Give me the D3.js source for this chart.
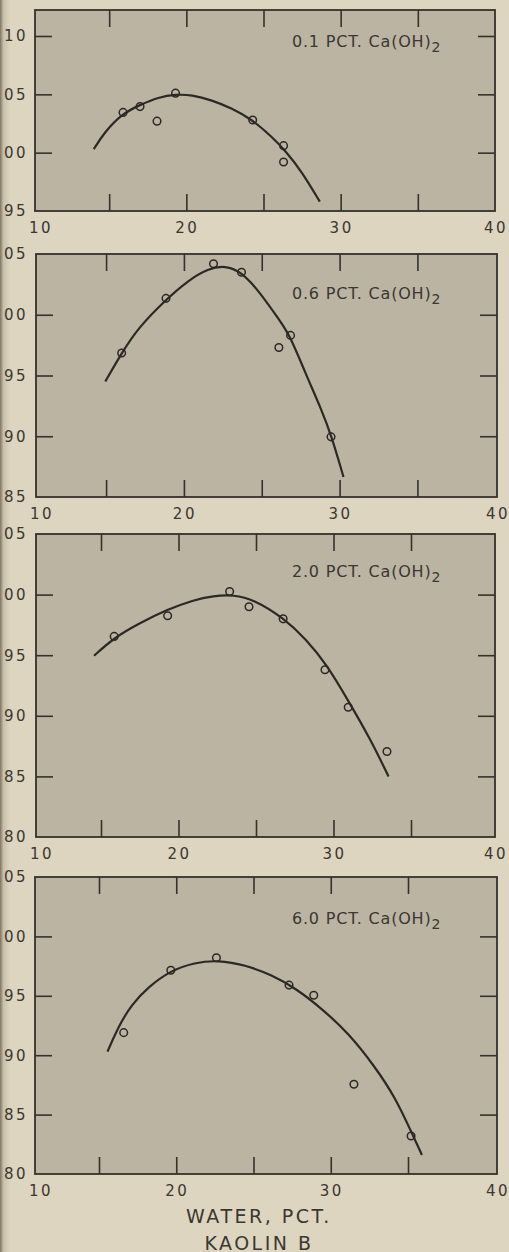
<!DOCTYPE html>
<html>
<head>
<meta charset="utf-8">
<style>
  body { margin: 0; background: #ddd5bf; }
  svg { display: block; }
  text { font-family: "DejaVu Sans", sans-serif; fill: #3b3731; }
</style>
</head>
<body>
<svg id="chart" width="509" height="1252"></svg>
<script src="https://d3js.org/d3.v7.min.js"></script>
<script>

// values: water (pct) vs dry density
var p1Water = [15.9, 17.0, 18.1, 19.3, 24.3, 26.3, 26.3];
var p1Density = [103.45, 103.95, 102.7, 105.1, 102.8, 100.6, 99.2];
var p1FitWater = [14.0, 14.7, 15.8, 17.0, 18.2, 19.3, 20.35, 21.65, 22.95, 24.25, 25.55, 26.4, 27.5, 28.65];
var p1FitDensity = [100.3, 101.75, 103.3, 104.1, 104.75, 105.0, 104.95, 104.5, 103.8, 102.85, 101.35, 100.2, 98.35, 95.8];

var p2Water = [16.0, 18.85, 21.9, 23.7, 26.1, 26.85, 29.45];
var p2Density = [96.85, 101.35, 104.2, 103.5, 97.3, 98.3, 89.95];
var p2FitWater = [14.95, 16.0, 17.05, 18.8, 20.3, 21.55, 22.65, 23.7, 25.0, 26.05, 26.8, 27.8, 28.85, 29.5, 30.25];
var p2FitDensity = [94.5, 96.85, 98.9, 101.2, 102.85, 103.8, 104.05, 103.55, 101.65, 99.7, 98.35, 95.2, 92.15, 89.95, 86.65];

var p3Water = [15.85, 19.3, 23.3, 24.55, 26.75, 29.45, 30.95, 33.45];
var p3Density = [96.55, 98.25, 100.25, 99.0, 98.0, 93.8, 90.7, 87.05];
var p3FitWater = [14.55, 15.85, 17.5, 19.25, 20.95, 22.25, 23.55, 24.85, 26.75, 28.25, 29.55, 30.95, 32.35, 33.55];
var p3FitDensity = [94.95, 96.45, 97.65, 98.75, 99.55, 99.9, 99.98, 99.6, 98.1, 96.3, 94.25, 91.25, 88.15, 85.0];

var p4Water = [16.6, 19.65, 22.6, 27.3, 28.9, 31.5, 35.2];
var p4Density = [91.9, 97.15, 98.2, 95.9, 95.05, 87.55, 83.2];
var p4FitWater = [15.55, 16.25, 17.1, 18.2, 19.6, 21.2, 22.7, 24.45, 26.2, 27.7, 29.4, 31.15, 32.85, 34.15, 35.25, 35.9];
var p4FitDensity = [90.3, 92.4, 94.25, 95.75, 97.1, 97.8, 98.0, 97.6, 96.75, 95.65, 93.95, 91.85, 89.05, 86.5, 83.45, 81.6];

var limeLabels = ["0.1", "0.6", "2.0", "6.0"];
var xTicks = [15, 20, 25, 30, 35];
var xTickLabels = [10, 20, 30, 40];
var p1YTicks = [95, 100, 105, 110];
var p2YTicks = [85, 90, 95, 100, 105];
var p3YTicks = [80, 85, 90, 95, 100, 105];
var p4YTicks = [80, 85, 90, 95, 100, 105];

var panels = [
  { water: p1Water, density: p1Density, fitW: p1FitWater, fitD: p1FitDensity, yTicks: p1YTicks,
    yDomain: [95, 110], yRange: [211, 36], xRange: [32, 495], box: { l: 35, r: 495, t: 10, b: 211 }, labelY: 47 },
  { water: p2Water, density: p2Density, fitW: p2FitWater, fitD: p2FitDensity, yTicks: p2YTicks,
    yDomain: [85, 105], yRange: [497, 254], xRange: [28.25, 495.25], box: { l: 36, r: 497, t: 254, b: 497 }, labelY: 299 },
  { water: p3Water, density: p3Density, fitW: p3FitWater, fitD: p3FitDensity, yTicks: p3YTicks,
    yDomain: [80, 105], yRange: [837, 534], xRange: [23.5, 488.5], box: { l: 36, r: 495, t: 534, b: 837 }, labelY: 577 },
  { water: p4Water, density: p4Density, fitW: p4FitWater, fitD: p4FitDensity, yTicks: p4YTicks,
    yDomain: [80, 105], yRange: [1174, 877], xRange: [21.75, 485.25], box: { l: 35, r: 497, t: 877, b: 1174 }, labelY: 924 }
];

var svg = d3.select("#chart");
var ink = "#35312c";
var tickLen = 17;

// darker binding strip on the left of the scan
var defs = svg.append("defs");
var grad = defs.append("linearGradient").attr("id", "edge");
grad.append("stop").attr("offset", "0").attr("stop-color", "#7d7465");
grad.append("stop").attr("offset", "0.35").attr("stop-color", "#c9c0a9");
grad.append("stop").attr("offset", "1").attr("stop-color", "#ddd5bf");
svg.append("rect").attr("x", 0).attr("y", 0).attr("width", 10).attr("height", 1252).attr("fill", "url(#edge)");

panels.forEach(function (p, i) {
  var x = d3.scaleLinear().domain([10, 40]).range(p.xRange);
  var y = d3.scaleLinear().domain(p.yDomain).range(p.yRange);
  var b = p.box;
  var g = svg.append("g");

  g.append("rect")
    .attr("x", b.l).attr("y", b.t)
    .attr("width", b.r - b.l).attr("height", b.b - b.t)
    .attr("fill", "#bbb4a3");

  var innerY = p.yTicks.filter(function (v) { return y(v) > b.t + 3 && y(v) < b.b - 3; });

  // inward ticks on all four sides
  var axes = [
    [d3.axisTop(x).tickValues(xTicks), "translate(0," + b.t + ")"],
    [d3.axisBottom(x).tickValues(xTicks), "translate(0," + b.b + ")"],
    [d3.axisLeft(y).tickValues(innerY), "translate(" + b.l + ",0)"],
    [d3.axisRight(y).tickValues(innerY), "translate(" + b.r + ",0)"]
  ];
  axes.forEach(function (a) {
    var ax = g.append("g").attr("transform", a[1])
      .call(a[0].tickSize(-tickLen).tickFormat(""));
    ax.select(".domain").remove();
    ax.selectAll("line").attr("stroke", ink).attr("stroke-width", 1.6);
  });

  g.append("rect")
    .attr("x", b.l).attr("y", b.t)
    .attr("width", b.r - b.l).attr("height", b.b - b.t)
    .attr("fill", "none").attr("stroke", ink).attr("stroke-width", 1.8);

  // y labels (the scan cuts the hundreds digit off on the left)
  g.selectAll(".ylab").data(p.yTicks).enter().append("text")
    .attr("x", 28).attr("y", function (d) { return y(d); })
    .attr("dy", "0.36em")
    .attr("text-anchor", "end")
    .attr("font-size", 15).attr("letter-spacing", 2.5)
    .text(function (d) { return d; });

  // x labels: the end labels sit at the frame corners
  g.selectAll(".xlab").data(xTickLabels).enter().append("text")
    .attr("x", function (d) {
      if (d === 10) return b.l + 6;
      if (d === 40) return b.r + 1;
      return x(d) + 1;
    })
    .attr("y", b.b + 22)
    .attr("text-anchor", "middle")
    .attr("font-size", 15).attr("letter-spacing", 2.5)
    .text(function (d) { return d; });

  var line = d3.line()
    .x(function (d) { return x(d[0]); })
    .y(function (d) { return y(d[1]); })
    .curve(d3.curveBasis);

  g.append("path")
    .datum(d3.zip(p.fitW, p.fitD))
    .attr("d", line)
    .attr("fill", "none").attr("stroke", "#2c2925").attr("stroke-width", 2.2);

  g.selectAll("circle").data(d3.zip(p.water, p.density)).enter().append("circle")
    .attr("cx", function (d) { return x(d[0]); })
    .attr("cy", function (d) { return y(d[1]); })
    .attr("r", 3.8)
    .attr("fill", "none").attr("stroke", "#2c2925").attr("stroke-width", 1.5);

  var t = g.append("text")
    .attr("x", 292).attr("y", p.labelY)
    .attr("font-size", 16).attr("letter-spacing", 0.8);
  t.append("tspan").text(limeLabels[i] + " PCT. Ca(OH)");
  t.append("tspan").attr("dy", 5).attr("font-size", 14).text("2");
});

svg.append("text")
  .attr("x", 259).attr("y", 1223)
  .attr("text-anchor", "middle")
  .attr("font-size", 19).attr("letter-spacing", 2.5)
  .text("WATER, PCT.");

svg.append("text")
  .attr("x", 259).attr("y", 1250)
  .attr("text-anchor", "middle")
  .attr("font-size", 19).attr("letter-spacing", 2.5)
  .text("KAOLIN B");

</script>
</body>
</html>
